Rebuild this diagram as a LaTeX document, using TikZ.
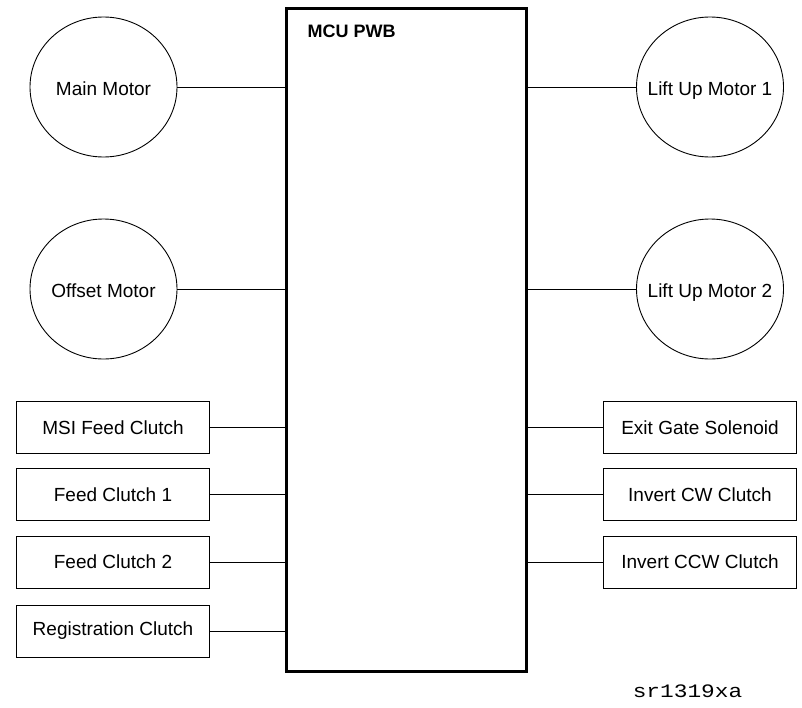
\documentclass[tikz,border=0pt]{standalone}
\usepackage{fontspec}
\setmainfont{Liberation Sans}
\newfontfamily\codefont{Liberation Mono}
\usetikzlibrary{shapes.geometric}
\begin{document}
\begin{tikzpicture}[x=1pt,y=-1pt,
  motor/.style={draw,line width=0.9pt,ellipse,minimum width=147pt,minimum height=140pt,inner sep=0pt,label=center:#1},
  part/.style={draw,line width=0.9pt,rectangle,minimum width=193pt,minimum height=52pt,inner sep=0pt},
  wire/.style={line width=0.9pt},
  every node/.style={font=\fontsize{19}{22}\selectfont},
  every label/.style={font=\fontsize{19}{22}\selectfont,text height=14pt,text depth=0pt,yshift=-1pt}]
\useasboundingbox (0,0) rectangle (802,707);
\node[draw,line width=3pt,minimum width=240pt,minimum height=663pt,inner sep=0pt] (mcu) at (406.5,340) {};
\node[anchor=west,font=\fontsize{18}{21}\selectfont\bfseries] (mcul) at (304,31) {MCU PWB};
\node[motor=Main Motor] (mm) at (103.5,87) {};
\node[motor=Offset Motor] (om) at (103.5,289) {};
\node[motor=Lift Up Motor 1] (lu1) at (710,87) {};
\node[motor=Lift Up Motor 2] (lu2) at (710,289) {};
\node[part] (msi) at (113,427.5) {MSI Feed Clutch};
\node[part] (fc1) at (113,494.5) {Feed Clutch 1};
\node[part] (fc2) at (113,562) {Feed Clutch 2};
\node[part] (reg) at (113,631) {Registration Clutch};
\node[part] (egs) at (700,427.5) {Exit Gate Solenoid};
\node[part] (icw) at (700,494.5) {Invert CW Clutch};
\node[part] (iccw) at (700,562) {Invert CCW Clutch};
\foreach \n in {mm,om,msi,fc1,fc2,reg}
  \draw[wire] (\n.east) -- (\n.east -| mcu.west);
\foreach \n in {lu1,lu2,egs,icw,iccw}
  \draw[wire] (\n.west) -- (\n.west -| mcu.east);
\node[font=\codefont\fontsize{19}{22}\selectfont,xscale=1.2,transform shape] (fig) at (687.5,691) {sr1319xa};
\end{tikzpicture}
\end{document}
